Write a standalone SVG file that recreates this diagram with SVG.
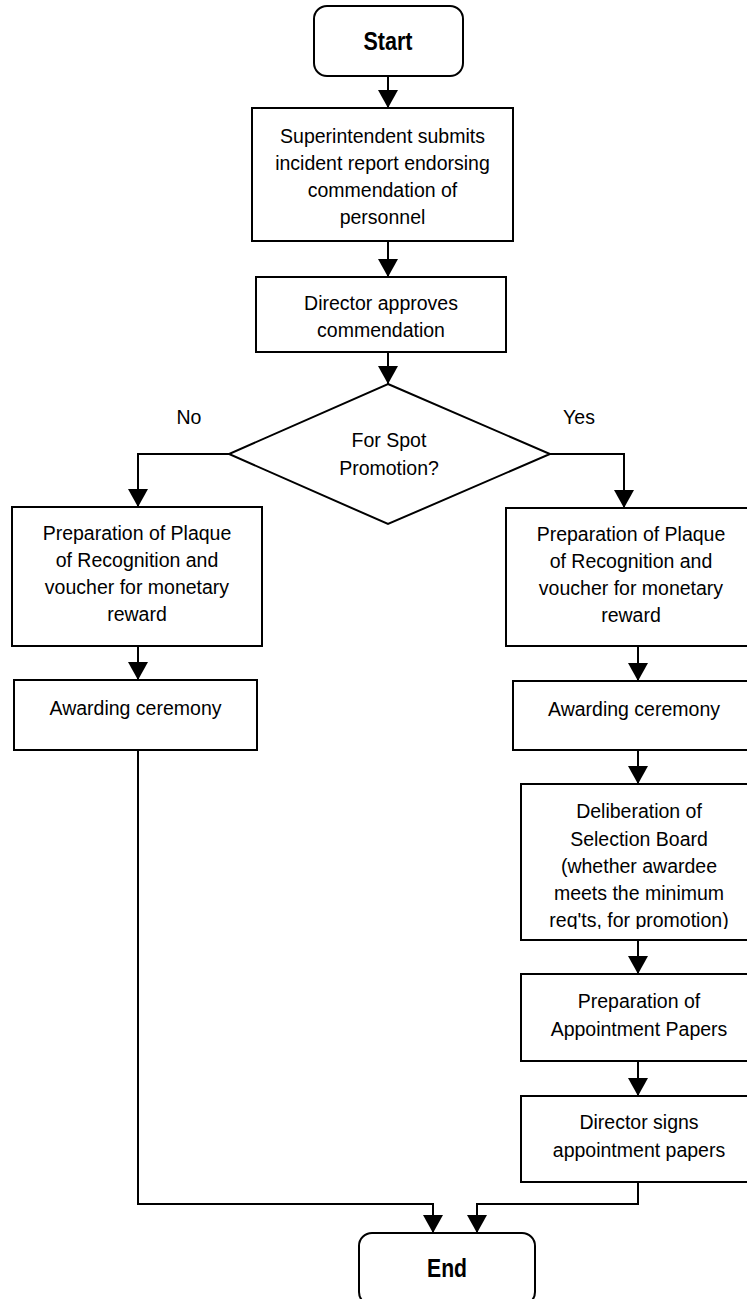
<svg xmlns="http://www.w3.org/2000/svg" width="747" height="1299" viewBox="0 0 747 1299">
<style>
.box{fill:#fff;stroke:#000;stroke-width:2}
.t{font-family:"Liberation Sans",Arial,sans-serif;font-size:19.5px;fill:#000;text-anchor:middle}
.b{font-family:"Liberation Sans",Arial,sans-serif;font-size:25px;font-weight:bold;fill:#000;text-anchor:middle}
.c{fill:none;stroke:#000;stroke-width:2}
</style>
<defs>
<marker id="ah" viewBox="0 0 18 20" refX="18" refY="10" markerWidth="18" markerHeight="20" markerUnits="userSpaceOnUse" orient="auto">
<path d="M0,0 L18,10 L0,20 z" fill="#000"/>
</marker>
<clipPath id="clipDel"><rect x="521" y="784" width="236" height="145"/></clipPath>
</defs>
<rect width="747" height="1299" fill="#fff"/>
<g id="connectors">
<path class="c" d="M388,76 V108" marker-end="url(#ah)"/>
<path class="c" d="M388,241 V277" marker-end="url(#ah)"/>
<path class="c" d="M388,352 V384" marker-end="url(#ah)"/>
<path class="c" d="M229,454 H138 V507" marker-end="url(#ah)"/>
<path class="c" d="M550,454 H624 V508" marker-end="url(#ah)"/>
<path class="c" d="M138,646 V680" marker-end="url(#ah)"/>
<path class="c" d="M138,750 V1204 H433 V1233" marker-end="url(#ah)"/>
<path class="c" d="M638,646 V681" marker-end="url(#ah)"/>
<path class="c" d="M638,750 V784" marker-end="url(#ah)"/>
<path class="c" d="M638,940 V974" marker-end="url(#ah)"/>
<path class="c" d="M638,1061 V1096" marker-end="url(#ah)"/>
<path class="c" d="M638,1182 V1204 H477 V1233" marker-end="url(#ah)"/>
<text class="t" x="189" y="424">No</text>
<text class="t" x="579" y="424">Yes</text>
</g>
<g id="start">
<rect class="box" x="314" y="6" width="149" height="70" rx="13"/>
<text class="b" x="388" y="50" textLength="49" lengthAdjust="spacingAndGlyphs">Start</text>
</g>
<g id="submit">
<rect class="box" x="252" y="108" width="261" height="133"/>
<text class="t" x="382.5" y="143">Superintendent submits</text>
<text class="t" x="382.5" y="170">incident report endorsing</text>
<text class="t" x="382.5" y="197">commendation of</text>
<text class="t" x="382.5" y="224">personnel</text>
</g>
<g id="approve">
<rect class="box" x="256" y="277" width="250" height="75"/>
<text class="t" x="381" y="310">Director approves</text>
<text class="t" x="381" y="337">commendation</text>
</g>
<g id="decision">
<polygon class="box" points="388,384 550,454 388,524 229,454"/>
<text class="t" x="389" y="447">For Spot</text>
<text class="t" x="389" y="475">Promotion?</text>
</g>
<g id="plaque-no">
<rect class="box" x="12" y="507" width="250" height="139"/>
<text class="t" x="137" y="540">Preparation of Plaque</text>
<text class="t" x="137" y="567">of Recognition and</text>
<text class="t" x="137" y="594">voucher for monetary</text>
<text class="t" x="137" y="621">reward</text>
</g>
<g id="ceremony-no">
<rect class="box" x="14" y="680" width="243" height="70"/>
<text class="t" x="135.5" y="715">Awarding ceremony</text>
</g>
<g id="plaque-yes">
<rect class="box" x="506" y="508" width="250" height="138"/>
<text class="t" x="631" y="541">Preparation of Plaque</text>
<text class="t" x="631" y="568">of Recognition and</text>
<text class="t" x="631" y="595">voucher for monetary</text>
<text class="t" x="631" y="622">reward</text>
</g>
<g id="ceremony-yes">
<rect class="box" x="513" y="681" width="243" height="69"/>
<text class="t" x="634" y="716">Awarding ceremony</text>
</g>
<g id="deliberation">
<rect class="box" x="521" y="784" width="236" height="156"/>
<g clip-path="url(#clipDel)">
<text class="t" x="639" y="818">Deliberation of</text>
<text class="t" x="639" y="846">Selection Board</text>
<text class="t" x="639" y="873">(whether awardee</text>
<text class="t" x="639" y="900">meets the minimum</text>
<text class="t" x="639" y="927">req'ts, for promotion)</text>
</g>
</g>
<g id="appointment">
<rect class="box" x="521" y="974" width="236" height="87"/>
<text class="t" x="639" y="1008">Preparation of</text>
<text class="t" x="639" y="1036">Appointment Papers</text>
</g>
<g id="signs">
<rect class="box" x="521" y="1096" width="236" height="86"/>
<text class="t" x="639" y="1129">Director signs</text>
<text class="t" x="639" y="1157">appointment papers</text>
</g>
<g id="end">
<rect class="box" x="359" y="1233" width="176" height="72" rx="13"/>
<text class="b" x="447" y="1277" textLength="40" lengthAdjust="spacingAndGlyphs">End</text>
</g>
</svg>
